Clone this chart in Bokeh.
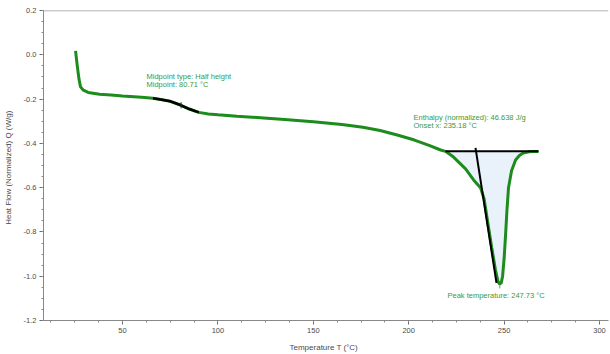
from bokeh.plotting import figure
from bokeh.models import Range1d, Span, FixedTicker, NumeralTickFormatter
from bokeh.core.properties import value
from bokeh.embed import file_html
from bokeh.resources import INLINE

# --- data ---
temperature = [25.4, 26.3, 27.2, 28.0, 29.5, 32.0, 38.0, 44.0, 50.0, 60.0, 66.0, 70.0, 75.0,
               80.7, 85.0, 90.0, 95.0, 100.0, 110.0, 124.0, 135.0, 150.0, 165.0, 176.0,
               185.0, 194.0, 203.0, 211.0, 216.7, 219.3, 223.5, 229.8, 234.0, 237.6,
               239.5, 241.8, 243.5, 245.4, 246.8, 247.7, 248.5, 249.2, 250.0, 250.7,
               251.5, 252.3, 253.9, 256.0, 258.0, 260.0, 263.0, 265.4, 268.0]
heat_flow = [0.018, -0.05, -0.11, -0.145, -0.160, -0.170, -0.178, -0.182, -0.186, -0.192,
             -0.196, -0.202, -0.210, -0.228, -0.245, -0.260, -0.267, -0.271, -0.278,
             -0.285, -0.292, -0.302, -0.315, -0.327, -0.342, -0.362, -0.385, -0.410,
             -0.430, -0.436, -0.462, -0.515, -0.565, -0.600, -0.650, -0.778, -0.870,
             -0.969, -1.025, -1.035, -1.030, -1.000, -0.920, -0.822, -0.700, -0.600,
             -0.524, -0.475, -0.455, -0.444, -0.438, -0.437, -0.437]

glass_range = [66.0, 90.0]          # black transition segment
midpoint_T = 80.71
midpoint_tick = [-0.214, -0.242]
peak_range = [219.3, 268.0]          # integration limits
baseline_level = -0.436
tangent_T = [235.0, 246.0]
tangent_Q = [-0.42, -1.03]
peak_T = 247.73
peak_tick = [-1.040, -1.055]

midpoint_text = ["Midpoint type: Half height", "Midpoint: 80.71 °C"]
midpoint_text_x = [62.6, 62.6]
midpoint_text_y = [-0.100, -0.136]
enthalpy_text = ["Enthalpy (normalized): 46.638 J/g", "Onset x: 235.18 °C"]
enthalpy_text_x = [202.5, 202.5]
enthalpy_text_y = [-0.284, -0.320]
peak_text = ["Peak temperature: 247.73 °C"]
peak_text_x = [220.3]
peak_text_y = [-1.089]

x_ticks = [50, 100, 150, 200, 250, 300]
x_minor_ticks = [12.5 * i for i in range(1, 25)]
y_ticks = [0.2, 0.0, -0.2, -0.4, -0.6, -0.8, -1.0, -1.2]
y_minor_ticks = [round(-1.2 + 0.05 * i, 2) for i in range(29)]
x_limits = [8.6, 304.7]
y_limits = [-1.2, 0.2]

GREEN = "#1c8c1c"
TEXT_GREEN = "#3a9a3a"
FONT = "Liberation Sans"

p = figure(width=610, height=354, output_backend="svg", toolbar_location=None,
           x_range=Range1d(*x_limits), y_range=Range1d(*y_limits),
           min_border_left=43, min_border_right=2, min_border_top=10, min_border_bottom=29)
p.background_fill_color = "white"
p.border_fill_color = "white"
p.outline_line_color = None
p.grid.visible = False

top_line = Span(location=y_limits[1], dimension="width", line_color="#9a9a9a", line_width=1.5)
p.add_layout(top_line)

# fill under peak
fx = [t for t in temperature if peak_range[0] <= t <= peak_range[1]]
fy = [q for t, q in zip(temperature, heat_flow) if peak_range[0] <= t <= peak_range[1]]
p.varea(x=fx, y1=[baseline_level] * len(fx), y2=fy, fill_color="#e9f2fb")

# main curve
p.line(temperature, heat_flow, line_color=GREEN, line_width=3)

# glass transition segment in black
gx = [t for t in temperature if glass_range[0] <= t <= glass_range[1]]
gy = [q for t, q in zip(temperature, heat_flow) if glass_range[0] <= t <= glass_range[1]]
p.line(gx, gy, line_color="black", line_width=2.5)
p.line([midpoint_T, midpoint_T], midpoint_tick, line_color="#333333", line_width=1)

# baseline and tangent
p.line(peak_range, [baseline_level, baseline_level], line_color="black", line_width=2)
p.line(tangent_T, tangent_Q, line_color="black", line_width=2)
p.line([peak_T, peak_T], peak_tick, line_color="#888888", line_width=1)

for xs, ys, txt in [(midpoint_text_x, midpoint_text_y, midpoint_text),
                    (enthalpy_text_x, enthalpy_text_y, enthalpy_text),
                    (peak_text_x, peak_text_y, peak_text)]:
    p.text(x=xs, y=ys, text=txt, text_font=value(FONT), text_font_size="7.5px",
           text_color=TEXT_GREEN, text_baseline="middle", text_align="left")

for ax in [p.xaxis[0], p.yaxis[0]]:
    ax.axis_line_color = "#888888"
    ax.major_tick_line_color = "#666666"
    ax.minor_tick_line_color = "#888888"
    ax.major_tick_out = 4
    ax.major_tick_in = 0
    ax.minor_tick_out = 2
    ax.minor_tick_in = 0
    ax.major_label_text_font = FONT
    ax.major_label_text_font_size = "7.5px"
    ax.major_label_text_color = "#4a4a4a"
    ax.axis_label_text_font = FONT
    ax.axis_label_text_font_size = "8px"
    ax.axis_label_text_color = "#4a4a4a"
    ax.axis_label_text_font_style = "normal"

p.xaxis.ticker = FixedTicker(ticks=x_ticks, minor_ticks=x_minor_ticks)
p.yaxis.ticker = FixedTicker(ticks=y_ticks, minor_ticks=y_minor_ticks)
p.yaxis.formatter = NumeralTickFormatter(format="0.0")
p.xaxis.axis_label = "Temperature  T  (°C)"
p.yaxis.axis_label = "Heat Flow (Normalized)  Q  (W/g)"
p.xaxis.major_label_standoff = 3
p.yaxis.major_label_standoff = 3
p.xaxis.axis_label_standoff = 7
p.yaxis.axis_label_standoff = 8

open("out.html", "w").write(file_html(p, INLINE))
